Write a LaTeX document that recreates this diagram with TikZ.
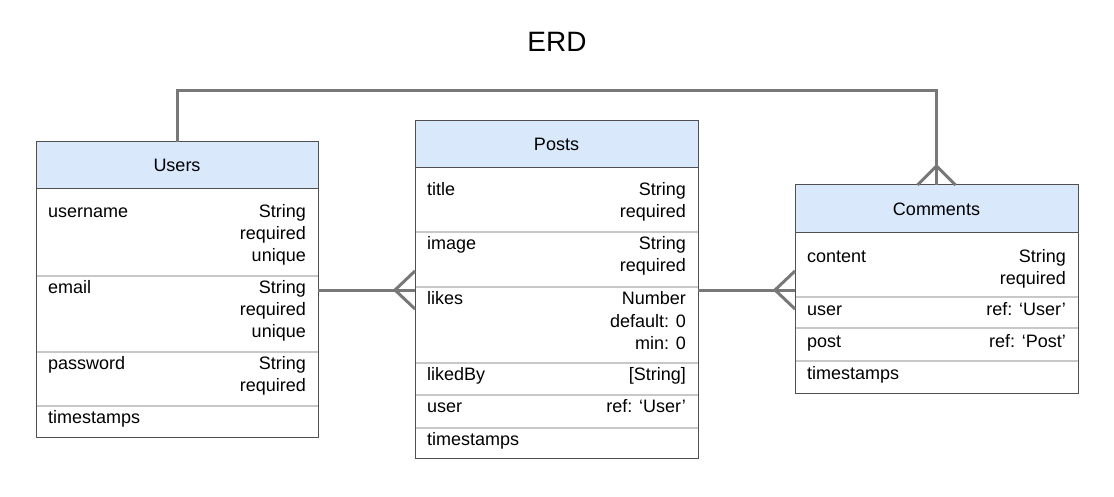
\documentclass[tikz,border=0pt]{standalone}
\usepackage{fontspec}
\setmainfont{Liberation Sans}
\definecolor{connc}{RGB}{120,120,120}
\definecolor{boxc}{RGB}{80,80,80}
\definecolor{hdrc}{RGB}{218,232,252}
\definecolor{sepc}{RGB}{200,200,200}
\newcommand\fs{\fontsize{18}{22}\selectfont}
\newcommand\rt[1]{\vtop{\halign{\hfil##\cr#1\cr}}}
\tikzset{
  ent/.style={draw=boxc, line width=1pt, fill=white, anchor=north west, inner sep=0pt, outer sep=0pt},
  hdr/.style={draw=boxc, line width=1pt, fill=hdrc, anchor=north west, inner sep=0pt, outer sep=0pt},
  ttl/.style={anchor=base, inner sep=0pt, font=\fs},
  fld/.style={anchor=base west, inner sep=0pt, font=\fs},
  typ/.style={anchor=base east, inner sep=0pt, font=\fs},
  sep/.style={draw=sepc, line width=1.2pt},
  conn/.style={draw=connc, line width=3pt},
}
\begin{document}
\begin{tikzpicture}[x=1pt,y=-1pt]
\useasboundingbox (0,0) rectangle (1114,497);
\node[anchor=base, inner sep=0pt, font=\fontsize{28}{34}\selectfont] (title) at (557,52) {ERD};

% Users
\node[ent, minimum width=282pt, minimum height=295pt] (users) at (36,142) {};
\node[hdr, minimum width=282pt, minimum height=47pt] (usersh) at (36,142) {};
\node[ttl] (usersT) at (177,172) {Users};
\draw[sep] (users.west |- 0,276) -- (users.east |- 0,276);
\draw[sep] (users.west |- 0,352) -- (users.east |- 0,352);
\draw[sep] (users.west |- 0,406) -- (users.east |- 0,406);
\node[fld] (u1) at (48,218) {username};
\node[typ] (u1t) at (306,218) {\rt{String\cr required\cr unique}};
\node[fld] (u2) at (48,293) {email};
\node[typ] (u2t) at (306,293) {\rt{String\cr required\cr unique}};
\node[fld] (u3) at (48,369) {password};
\node[typ] (u3t) at (306,369) {\rt{String\cr required}};
\node[fld] (u4) at (48,423) {timestamps};
\draw[boxc, line width=1pt] (users.north west) rectangle (users.south east);

% Posts
\node[ent, minimum width=283pt, minimum height=337pt] (posts) at (415,121) {};
\node[hdr, minimum width=283pt, minimum height=47pt] (postsh) at (415,121) {};
\node[ttl] (postsT) at (556.5,151) {Posts};
\draw[sep] (posts.west |- 0,232) -- (posts.east |- 0,232);
\draw[sep] (posts.west |- 0,287) -- (posts.east |- 0,287);
\draw[sep] (posts.west |- 0,363) -- (posts.east |- 0,363);
\draw[sep] (posts.west |- 0,395) -- (posts.east |- 0,395);
\draw[sep] (posts.west |- 0,428) -- (posts.east |- 0,428);
\node[fld] (p1) at (427,196) {title};
\node[typ] (p1t) at (686,196) {\rt{String\cr required}};
\node[fld] (p2) at (427,250) {image};
\node[typ] (p2t) at (686,250) {\rt{String\cr required}};
\node[fld] (p3) at (427,305) {likes};
\node[typ] (p3t) at (686,305) {\rt{Number\cr default: 0\cr min: 0}};
\node[fld] (p4) at (427,380) {likedBy};
\node[typ] (p4t) at (686,380) {[String]};
\node[fld] (p5) at (427,412) {user};
\node[typ] (p5t) at (686,412) {ref: ‘User’};
\node[fld] (p6) at (427,445) {timestamps};
\draw[boxc, line width=1pt] (posts.north west) rectangle (posts.south east);

% Comments
\node[ent, minimum width=283pt, minimum height=208pt] (comments) at (795,185) {};
\node[hdr, minimum width=283pt, minimum height=48pt] (commentsh) at (795,185) {};
\node[ttl] (commentsT) at (936.5,216) {Comments};
\draw[sep] (comments.west |- 0,297) -- (comments.east |- 0,297);
\draw[sep] (comments.west |- 0,328) -- (comments.east |- 0,328);
\draw[sep] (comments.west |- 0,361) -- (comments.east |- 0,361);
\node[fld] (c1) at (807,262) {content};
\node[typ] (c1t) at (1066,262) {\rt{String\cr required}};
\node[fld] (c2) at (807,315) {user};
\node[typ] (c2t) at (1066,315) {ref: ‘User’};
\node[fld] (c3) at (807,347) {post};
\node[typ] (c3t) at (1066,347) {ref: ‘Post’};
\node[fld] (c4) at (807,379) {timestamps};
\draw[boxc, line width=1pt] (comments.north west) rectangle (comments.south east);

% Connectors
\coordinate (f1) at (395,290);
\coordinate (f2) at (775,290);
\draw[conn] (users.east |- f1) -- (posts.west |- f1);
\draw[conn] (posts.west |- 0,271) -- (f1) -- (posts.west |- 0,309);
\draw[conn] (posts.east |- f2) -- (comments.west |- f2);
\draw[conn] (comments.west |- 0,271) -- (f2) -- (comments.west |- 0,309);
\draw[conn] (users.north) -- (users.north |- 0,91) -- (comments.north |- 0,91) -- (comments.north);
\draw[conn] ([xshift=-19pt]comments.north) -- ([yshift=19pt]comments.north) -- ([xshift=19pt]comments.north);
\end{tikzpicture}
\end{document}
